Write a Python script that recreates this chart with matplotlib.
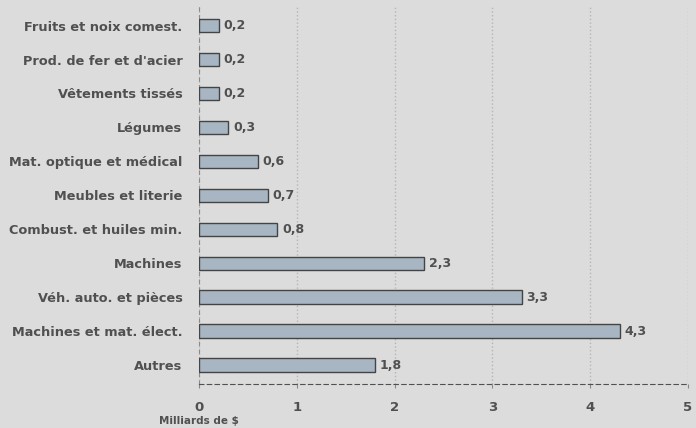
import matplotlib.pyplot as plt

# ─── DATA ─────────────────────────────────────────
categories = [
    'Fruits et noix comest.',
    "Prod. de fer et d'acier",
    'Vêtements tissés',
    'Légumes',
    'Mat. optique et médical',
    'Meubles et literie',
    'Combust. et huiles min.',
    'Machines',
    'Véh. auto. et pièces',
    'Machines et mat. élect.',
    'Autres',
]
values = [0.2, 0.2, 0.2, 0.3, 0.6, 0.7, 0.8, 2.3, 3.3, 4.3, 1.8]
value_labels = ['0,2', '0,2', '0,2', '0,3', '0,6', '0,7', '0,8', '2,3', '3,3', '4,3', '1,8']
xticks = [0, 1, 2, 3, 4, 5]

bg = '#dcdcdc'
text_col = '#505050'
plt.rcParams['font.family'] = ['DejaVu Sans']

fig = plt.figure(figsize=(6.96, 4.28), dpi=100, facecolor=bg)
ax = fig.add_axes([0.286, 0.103, 0.7025, 0.881], facecolor=bg)

ypos = list(range(len(categories)))
ax.barh(ypos, values, height=0.4, color='#a7b6c2', edgecolor='#444444', linewidth=1.0, zorder=3)

# value labels
for y, v, lab in zip(ypos, values, value_labels):
    ax.text(v + 0.05, y, lab, va='center', ha='left', fontsize=9, fontweight='bold',
            color=text_col, zorder=4)

ax.set_xlim(0, 5)
ax.set_ylim(len(categories) - 0.45, -0.55)
ax.set_yticks(ypos)
ax.set_yticklabels(categories, fontsize=9.3, fontweight='bold', color=text_col)
ax.set_xticks(xticks)
ax.set_xticklabels([str(t) for t in xticks], fontsize=9.5, fontweight='bold', color=text_col)
ax.tick_params(axis='y', length=0, pad=12)
ax.tick_params(axis='x', length=3, color='#888888', pad=9)

# grid & spines
ax.grid(axis='x', color='#b5b5b5', linestyle=':', linewidth=1.0, zorder=0)
for s in ['top', 'right']:
    ax.spines[s].set_visible(False)
ax.spines['left'].set_linestyle((0, (3, 4)))
ax.spines['left'].set_color('#8a8a8a')
ax.spines['bottom'].set_linestyle((0, (4, 3)))
ax.spines['bottom'].set_color('#505050')

ax.text(0, -0.098, 'Milliards de $', transform=ax.transAxes, ha='center', va='center',
        fontsize=7.5, fontweight='bold', color=text_col)

plt.savefig('out.png', dpi=100, facecolor=bg)
plt.close()
